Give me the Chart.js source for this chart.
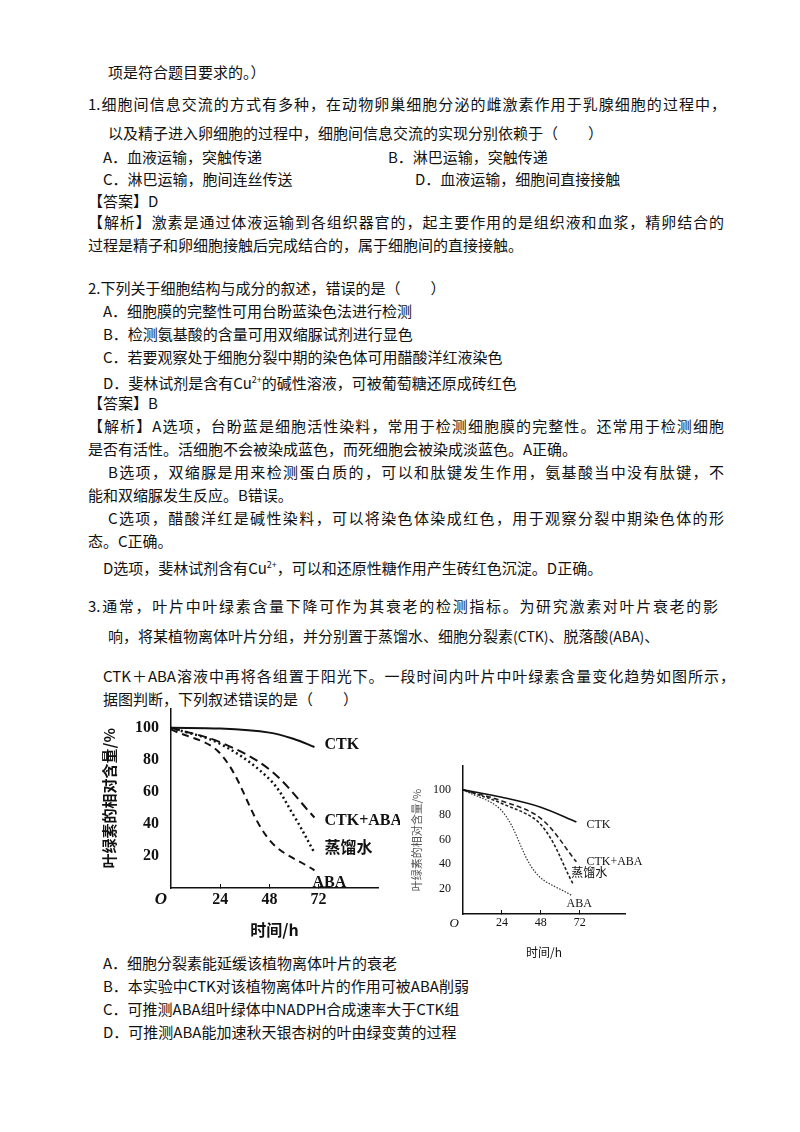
<!DOCTYPE html>
<html><head><meta charset="utf-8">
<script src="https://cdn.jsdelivr.net/npm/chart.js@4"></script>
<style>
body{margin:0;background:#fff;width:800px;height:1132px;position:relative;font-family:"Noto Sans CJK SC",sans-serif;color:#111;}
.l{position:absolute;font-size:15px;line-height:20px;white-space:nowrap;transform:translateY(-10px);}
.j{text-align:justify;text-align-last:justify;}
canvas{position:absolute;}
sup{font-size:9px;}
</style></head><body>
<div class="l" style="left:108px;top:72px">项是符合题目要求的。）</div>
<div class="l j" style="left:88px;top:104px;width:638px">1.细胞间信息交流的方式有多种，在动物卵巢细胞分泌的雌激素作用于乳腺细胞的过程中，</div>
<div class="l" style="left:108px;top:133px">以及精子进入卵细胞的过程中，细胞间信息交流的实现分别依赖于（　　）</div>
<div class="l" style="left:103px;top:157px">A．血液运输，突触传递</div>
<div class="l" style="left:388px;top:157px">B．淋巴运输，突触传递</div>
<div class="l" style="left:103px;top:179px">C．淋巴运输，胞间连丝传送</div>
<div class="l" style="left:415px;top:179px">D．血液运输，细胞间直接接触</div>
<div class="l" style="left:88px;top:201px">【答案】D</div>
<div class="l j" style="left:88px;top:222px;width:636px">【解析】激素是通过体液运输到各组织器官的，起主要作用的是组织液和血浆，精卵结合的</div>
<div class="l" style="left:88px;top:245px">过程是精子和卵细胞接触后完成结合的，属于细胞间的直接接触。</div>
<div class="l" style="left:88px;top:288px">2.下列关于细胞结构与成分的叙述，错误的是（　　）</div>
<div class="l" style="left:103px;top:311px">A．细胞膜的完整性可用台盼蓝染色法进行检测</div>
<div class="l" style="left:103px;top:334px">B．检测氨基酸的含量可用双缩脲试剂进行显色</div>
<div class="l" style="left:103px;top:357px">C．若要观察处于细胞分裂中期的染色体可用醋酸洋红液染色</div>
<div class="l" style="left:103px;top:380px">D．斐林试剂是含有Cu<sup>2+</sup>的碱性溶液，可被葡萄糖还原成砖红色</div>
<div class="l" style="left:88px;top:403px">【答案】B</div>
<div class="l j" style="left:88px;top:426px;width:636px">【解析】A选项，台盼蓝是细胞活性染料，常用于检测细胞膜的完整性。还常用于检测细胞</div>
<div class="l" style="left:88px;top:449px">是否有活性。活细胞不会被染成蓝色，而死细胞会被染成淡蓝色。A正确。</div>
<div class="l j" style="left:108px;top:472px;width:616px">B选项，双缩脲是用来检测蛋白质的，可以和肽键发生作用，氨基酸当中没有肽键，不</div>
<div class="l" style="left:88px;top:495px">能和双缩脲发生反应。B错误。</div>
<div class="l j" style="left:108px;top:518px;width:616px">C选项，醋酸洋红是碱性染料，可以将染色体染成红色，用于观察分裂中期染色体的形</div>
<div class="l" style="left:88px;top:541px">态。C正确。</div>
<div class="l" style="left:103px;top:565px">D选项，斐林试剂含有Cu<sup>2+</sup>，可以和还原性糖作用产生砖红色沉淀。D正确。</div>
<div class="l j" style="left:88px;top:606px;width:630px">3.通常，叶片中叶绿素含量下降可作为其衰老的检测指标。为研究激素对叶片衰老的影</div>
<div class="l" style="left:108px;top:636px">响，将某植物离体叶片分组，并分别置于蒸馏水、细胞分裂素<span style="font-size:14px">(CTK)</span>、脱落酸<span style="font-size:14px">(ABA)</span>、</div>
<div class="l j" style="left:103px;top:676px;width:632px">CTK＋ABA溶液中再将各组置于阳光下。一段时间内叶片中叶绿素含量变化趋势如图所示，</div>
<div class="l" style="left:103px;top:699px">据图判断，下列叙述错误的是（　　）</div>
<div class="l" style="left:103px;top:963px">A．细胞分裂素能延缓该植物离体叶片的衰老</div>
<div class="l" style="left:103px;top:986px">B．本实验中CTK对该植物离体叶片的作用可被ABA削弱</div>
<div class="l" style="left:103px;top:1009px">C．可推测ABA组叶绿体中NADPH合成速率大于CTK组</div>
<div class="l" style="left:103px;top:1032px">D．可推测ABA能加速秋天银杏树的叶由绿变黄的过程</div>

<canvas id="c1" style="left:100px;top:695px;width:300px;height:245px" width="300" height="245"></canvas>
<canvas id="c2" style="left:410px;top:755px;width:250px;height:205px" width="250" height="205"></canvas>
<script>
const xTicks=[24,48,72];
const yTicks=[20,40,60,80,100];
const names=["CTK","CTK+ABA","蒸馏水","ABA"];
// chart 1
const c1CTK=[{x:0,y:100},{x:24,y:99.5},{x:48,y:97},{x:60,y:93},{x:70,y:88}];
const c1Mix=[{x:0,y:100},{x:24,y:91},{x:48,y:74},{x:70,y:44}];
const c1Water=[{x:0,y:100},{x:24,y:90},{x:48,y:68},{x:60,y:45},{x:70,y:22}];
const c1ABA=[{x:0,y:99},{x:24,y:84},{x:48,y:30},{x:70,y:11}];
// chart 2
const c2CTK=[{x:0,y:100},{x:24,y:94},{x:48,y:86},{x:70,y:74}];
const c2Mix=[{x:0,y:100},{x:24,y:91},{x:48,y:77},{x:70,y:42}];
const c2Water=[{x:0,y:100},{x:24,y:89},{x:48,y:72},{x:68,y:24}];
const c2ABA=[{x:0,y:100},{x:24,y:83},{x:45,y:33},{x:67,y:15}];

function make(id,sets,o){
  const dashes=o.dashes;
  const widths=o.widths;
  const labelPlugin={id:'lbl',afterDatasetsDraw(ch){
    const ctx=ch.ctx;ctx.save();ctx.fillStyle='#111';
    ctx.font=o.lf;ctx.textBaseline='middle';
    ch.data.datasets.forEach((d,i)=>{
      const m=ch.getDatasetMeta(i).data;const p=m[m.length-1];
      ctx.fillText(d.label,p.x+o.loff[i][0],p.y+o.loff[i][1]);
    });
    const xa=ch.scales.x,ya=ch.scales.y;
    ctx.font=o.of;ctx.textAlign='right';ctx.textBaseline='top';
    ctx.fillText('O',xa.left-4,ya.bottom+3);
    ctx.restore();}};
  new Chart(document.getElementById(id),{type:'line',
    data:{datasets:sets.map((s,i)=>({label:names[i],data:s,borderColor:o.cols[i],borderWidth:widths[i],borderDash:dashes[i],pointRadius:0,tension:0.35,fill:false}))},
    options:{responsive:false,animation:false,events:[],
      layout:{padding:o.pad},
      plugins:{legend:{display:false},tooltip:{enabled:false}},
      scales:{
        x:{type:'linear',min:0,max:o.xmax,afterBuildTicks:a=>{a.ticks=xTicks.map(v=>({value:v}))},
          border:{color:'#111',width:1.5},grid:{display:true,drawOnChartArea:false,tickLength:-4,color:'#111'},
          ticks:{color:'#111',font:{family:'Liberation Serif',size:o.tf,weight:o.tw},padding:6},
          title:{display:true,text:'时间/h',color:'#111',font:{family:'Noto Sans CJK SC',size:o.tf,weight:o.tw},padding:{top:0,bottom:0}},
          afterFit:a=>{a.height=o.xh}},
        y:{min:0,max:o.ymax,afterBuildTicks:a=>{a.ticks=yTicks.map(v=>({value:v}))},
          border:{color:'#111',width:1.5},grid:{display:false},
          ticks:{color:'#111',font:{family:'Liberation Serif',size:o.tf,weight:o.tw},padding:4},
          title:{display:true,text:'叶绿素的相对含量/%',color:o.tc,font:{family:'Noto Sans CJK SC',size:o.ytf,weight:o.tw},padding:0},
          afterFit:a=>{a.width=o.yw}}}},
    plugins:[labelPlugin]});
}
make('c1',[c1CTK,c1Mix,c1Water,c1ABA],{xmax:101,ymax:112,pad:{top:8,right:22,left:0,bottom:0},xh:52,yw:71,
  dashes:[[],[9,5],[2,3],[7,5]],
  widths:[2,2,2.5,2],cols:['#111','#111','#111','#111'],tf:16,tw:'bold',ytf:15,tc:'#111',
  lf:'bold 16px "Liberation Serif","Noto Sans CJK SC"',of:'italic bold 17px "Liberation Serif"',
  loff:[[10,-2],[10,3],[10,-4],[-2,12]]});
make('c2',[c2CTK,c2Mix,c2Water,c2ABA],{xmax:100,ymax:119,pad:{top:8,right:35,left:0,bottom:0},xh:46,yw:53,
  dashes:[[],[5,3],[3,2],[1.5,1.5]],
  widths:[1.6,1.6,1.6,1.2],cols:['#111','#222','#222','#333'],tf:12,tw:'normal',ytf:11,tc:'#555',
  lf:'12px "Liberation Serif","Noto Sans CJK SC"',of:'italic 13px "Liberation Serif"',
  loff:[[10,3],[10,0],[-2,-10],[-5,8]]});
</script>
</body></html>
